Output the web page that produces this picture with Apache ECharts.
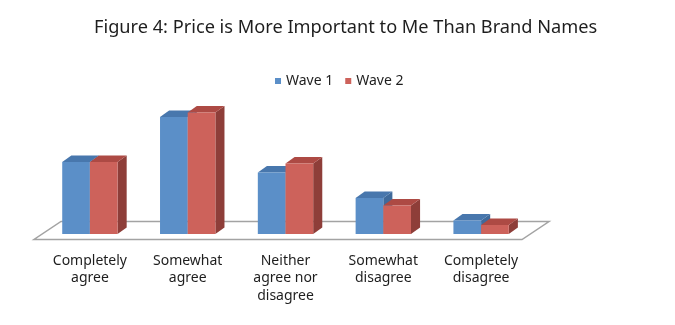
<!DOCTYPE html>
<html>
<head>
<meta charset="utf-8">
<script src="https://cdn.jsdelivr.net/npm/echarts@6/dist/echarts.min.js"></script>
<style>
html,body{margin:0;padding:0;background:#fff;}
#chart{width:675px;height:325px;}
</style>
</head>
<body>
<div id="chart"></div>
<script>
const categories = ['Completely\nagree', 'Somewhat\nagree', 'Neither\nagree nor\ndisagree', 'Somewhat\ndisagree', 'Completely\ndisagree'];
const wave1 = [24, 39, 20.5, 12, 4.5];
const wave2 = [24, 40.5, 23.5, 9.5, 3];
const seriesNames = ['Wave 1', 'Wave 2'];

const FONT = '"Noto Sans", sans-serif';
const palettes = [
  {front: '#5b8fc8', top: '#4877ad', side: '#3f6a9b'},
  {front: '#cd625b', top: '#ad4a44', side: '#8e3e39'}
];

function barRenderer(which) {
  const pal = palettes[which];
  return function (params, api) {
    const idx = api.value(0), val = api.value(1);
    const base = api.coord([idx, 0]);
    const top = api.coord([idx, val]);
    const band = api.size([1, 0])[0];
    const bw = band * 0.283;
    const x0 = which === 0 ? base[0] - bw : base[0];
    const x1 = x0 + bw;
    const dx = band * 0.093, dy = band * 0.066;
    const yt = top[1], yb = base[1];
    return {
      type: 'group',
      children: [
        {type: 'polygon', shape: {points: [[x1, yt], [x1 + dx, yt - dy], [x1 + dx, yb - dy], [x1, yb]]}, style: {fill: pal.side}},
        {type: 'polygon', shape: {points: [[x0, yt], [x1, yt], [x1 + dx, yt - dy], [x0 + dx, yt - dy]]}, style: {fill: pal.top}},
        {type: 'rect', shape: {x: x0, y: yt, width: bw, height: yb - yt}, style: {fill: pal.front}}
      ]
    };
  };
}

function floorRenderer(params, api) {
  const cs = params.coordSys;
  const y0 = api.coord([0, 0])[1];
  const fy = y0 + 5.5, by = y0 - 12.5;
  const lx = cs.x - 7, rx = cs.x + cs.width - 8;
  const sk = 27;
  return {
    type: 'polygon',
    shape: {points: [[lx, fy], [rx, fy], [rx + sk, by], [lx + sk, by]]},
    style: {fill: '#ffffff', stroke: '#a3a3a3', lineWidth: 1.5}
  };
}

const chart = echarts.init(document.getElementById('chart'), null, {renderer: 'canvas'});
chart.setOption({
  animation: false,
  backgroundColor: '#ffffff',
  title: {
    text: 'Figure 4: Price is More Important to Me Than Brand Names',
    left: 94, top: 19, padding: 0,
    textStyle: {fontFamily: FONT, fontSize: 18.2, fontWeight: 'normal', color: '#1e1e1e'}
  },
  legend: {
    data: seriesNames,
    left: 275, top: 74, padding: 0,
    icon: 'rect', itemWidth: 6, itemHeight: 6, itemGap: 12,
    textStyle: {fontFamily: FONT, fontSize: 14, color: '#1e1e1e'}
  },
  grid: {left: 41, right: 145, top: 99, bottom: 91},
  xAxis: {
    type: 'category',
    data: categories,
    axisLine: {show: false},
    axisTick: {show: false},
    splitLine: {show: false},
    axisLabel: {
      interval: 0, margin: 18, verticalAlign: 'top',
      fontFamily: FONT, fontSize: 14, color: '#1e1e1e', lineHeight: 17.5
    }
  },
  yAxis: {type: 'value', min: 0, max: 45, show: false, splitLine: {show: false}},
  series: [
    {type: 'custom', name: 'floor', renderItem: floorRenderer, data: [[0, 0]], z: 1, silent: true},
    {type: 'custom', name: seriesNames[0], renderItem: barRenderer(0), itemStyle: {color: palettes[0].front},
     data: wave1.map((v, i) => [i, v]), z: 2},
    {type: 'custom', name: seriesNames[1], renderItem: barRenderer(1), itemStyle: {color: palettes[1].front},
     data: wave2.map((v, i) => [i, v]), z: 3}
  ]
});
</script>
</body>
</html>
